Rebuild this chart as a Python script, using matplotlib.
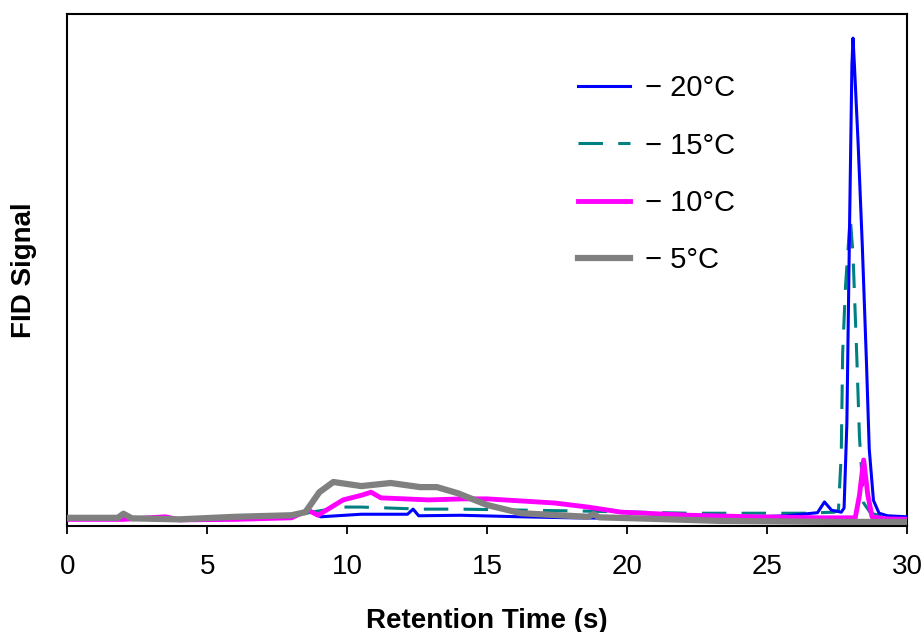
import numpy as np
import matplotlib
matplotlib.use('Agg')
import matplotlib.pyplot as plt

plt.rcParams['font.family'] = ['Liberation Sans', 'DejaVu Sans']

# values (time in s, signal in arbitrary units)
t_20 = [0, 2, 4, 6, 8, 8.6, 9.05, 10.5, 12.15, 12.35, 12.55, 14.05, 16.2, 18.0, 20.0,
        22.0, 24.0, 25.7, 26.8, 27.05, 27.3, 27.65, 27.75, 27.85, 27.95, 28.03, 28.07,
        28.12, 28.25, 28.4, 28.55, 28.65, 28.8, 29.0, 29.3, 30.0]
y_20 = [1.5, 1.6, 1.4, 1.5, 1.6, 3.1, 1.8, 2.3, 2.3, 3.3, 2.0, 2.1, 1.8, 1.6, 1.5,
        1.6, 1.7, 2.0, 2.6, 4.7, 3.1, 2.7, 3.5, 20.0, 60.0, 90.0, 95.3,
        90.0, 75.0, 55.0, 32.0, 15.0, 5.0, 2.5, 2.0, 1.8]

t_15 = [0, 2, 4, 6, 8, 8.7, 9.85, 10.5, 12.6, 14.05, 18.6, 22.2, 26.3, 27.4, 27.55,
        27.65, 27.7, 27.8, 27.97, 28.07, 28.2, 28.3, 28.45, 28.7, 29.2, 30.0]
y_15 = [1.5, 1.5, 1.4, 1.5, 1.7, 2.7, 3.7, 3.7, 3.3, 3.3, 2.9, 2.5, 2.5, 2.7, 3.1,
        14.2, 33.8, 46.7, 60.3, 53.0, 33.8, 17.4, 4.5, 2.5, 1.8, 1.5]

t_10 = [0, 2, 3.5, 4, 6, 8, 8.6, 8.95, 9.85, 10.5, 10.85, 11.2, 12.9, 14.15, 15.0,
        17.4, 18.6, 19.8, 22.2, 24.5, 26.9, 28.15, 28.3, 28.45, 28.6, 28.75, 29.2, 30.0]
y_10 = [1.3, 1.3, 1.8, 1.2, 1.3, 1.6, 3.1, 2.1, 5.1, 6.0, 6.6, 5.5, 5.1, 5.3, 5.3,
        4.5, 3.7, 2.7, 2.1, 1.8, 1.6, 1.6, 6.0, 12.9, 6.0, 1.8, 1.4, 1.3]

t_5 = [0, 1.8, 2.0, 2.3, 4, 6, 8, 8.5, 9.0, 9.5, 10.5, 11.55, 12.6, 13.2, 13.95,
       15.0, 16.2, 18.6, 18.8, 19.0, 20.95, 23.3, 27.5, 30.0]
y_5 = [1.6, 1.6, 2.4, 1.5, 1.3, 1.8, 2.1, 2.7, 6.6, 8.6, 7.8, 8.4, 7.6, 7.6, 6.4,
       4.1, 2.5, 1.8, 2.3, 1.7, 1.4, 1.0, 0.8, 0.8]

labels = ['\u2212 20°C', '\u2212 15°C', '\u2212 10°C', '\u2212 5°C']
xticks = [0, 5, 10, 15, 20, 25, 30]

fig = plt.figure(figsize=(9.23, 6.32), dpi=100)
ax = fig.add_axes([0.0731, 0.1677, 0.9096, 0.8101])

ax.plot(t_20, y_20, color='#0000FF', lw=2.2, label=labels[0], zorder=3)
ax.plot(t_15, y_15, color='#008080', lw=2.2, ls=(0, (8, 5)), label=labels[1], zorder=2)
ax.plot(t_10, y_10, color='#FF00FF', lw=3.5, label=labels[2], zorder=4)
ax.plot(t_5, y_5, color='#808080', lw=4.5, label=labels[3], zorder=5)

ax.set_xlim(0, 30)
ax.set_ylim(0, 100)
ax.set_xticks(xticks)
ax.set_yticks([])
ax.tick_params(axis='x', direction='out', length=6, width=1.3, labelsize=20, pad=14)
for s in ax.spines.values():
    s.set_linewidth(1.5)

ax.set_xlabel('Retention Time (s)', fontsize=20, fontweight='bold', labelpad=20)
ax.set_ylabel('FID Signal', fontsize=20, fontweight='bold', labelpad=22)

ax.legend(loc='upper left', bbox_to_anchor=(0.608, 0.882), frameon=False,
          fontsize=21, handlelength=1.8, handletextpad=0.5, labelspacing=1.0,
          borderpad=0, borderaxespad=0)

fig.savefig('out.png', dpi=100)
